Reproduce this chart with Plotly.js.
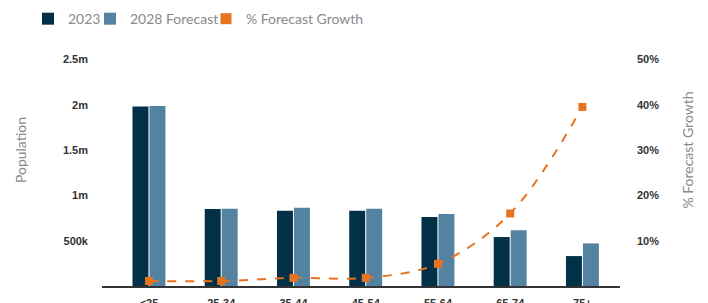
<!DOCTYPE html>
<html>
<head>
<meta charset="utf-8">
<script src="https://cdn.plot.ly/plotly-3.0.1.min.js"></script>
<style>html,body{margin:0;padding:0;background:#fff;}#chart{width:708px;height:303px;}</style>
</head>
<body>
<div id="chart"></div>
<script>
const categories = ['<25', '25-34', '35-44', '45-54', '55-64', '65-74', '75+'];
const pop2023 = [1980000, 850000, 830000, 830000, 760000, 540000, 330000];
const pop2028 = [1985000, 852000, 862000, 852000, 795000, 615000, 470000];
const growthPct = [1.1, 1.1, 1.8, 1.8, 4.9, 16.0, 39.5];
const leftTickVals = [500000, 1000000, 1500000, 2000000, 2500000];
const leftTickText = ['500k', '1m', '1.5m', '2m', '2.5m'];
const rightTickVals = [10, 20, 30, 40, 50];
const rightTickText = ['10%', '20%', '30%', '40%', '50%'];

const navy = '#023047';
const steel = '#5483a1';
const orange = '#e8731f';

const traces = [
  {type: 'bar', name: '2023', x: categories, y: pop2023, marker: {color: navy}, hoverinfo: 'x+y', legend: 'legend4'},
  {type: 'bar', name: '2028 Forecast', x: categories, y: pop2028, marker: {color: steel}, hoverinfo: 'x+y', legend: 'legend2'},
  {type: 'scatter', mode: 'lines+markers', name: '% Forecast Growth', x: categories, y: growthPct, yaxis: 'y2',
   line: {color: orange, width: 2, dash: 'dash', shape: 'spline', smoothing: 1.0},
   marker: {color: orange, symbol: 'square', size: 8}, showlegend: false, legend: 'legend3'},
  {type: 'scatter', mode: 'markers', name: '% Forecast Growth', x: [null], y: [null], yaxis: 'y2',
   marker: {color: orange, symbol: 'square', size: 11}, showlegend: true, legend: 'legend3'}
];

const tickFont = {family: 'Liberation Sans, Arial, sans-serif', size: 11, color: '#333', weight: 'bold'};
const titleFont = {family: 'Lato, sans-serif', size: 14, color: '#8a8a8a'};

function legendAt(px) {
  return {orientation: 'h', xref: 'container', yref: 'container', x: px / 708, xanchor: 'left', y: 0.937, yanchor: 'middle',
          font: {family: 'Lato, sans-serif', size: 14, color: '#8a8a8a'},
          bgcolor: 'rgba(0,0,0,0)', itemwidth: 30};
}

const layout = {
  width: 708, height: 303,
  margin: {l: 102, r: 88, t: 14, b: 17, autoexpand: false},
  paper_bgcolor: '#fff', plot_bgcolor: '#fff',
  barmode: 'group', bargap: 0.53, bargroupgap: 0.06,
  showlegend: true,
  legend4: legendAt(28),
  legend2: legendAt(90),
  legend3: legendAt(206),
  xaxis: {type: 'category', range: [-0.65, 6.52], showline: true, linecolor: '#333', linewidth: 2,
          showgrid: false, zeroline: false, ticks: '', tickfont: tickFont, ticklabelstandoff: 6, automargin: false, fixedrange: true},
  yaxis: {range: [0, 3000000], tickvals: leftTickVals, ticktext: leftTickText, showgrid: false, zeroline: false,
          showline: false, ticks: '', tickfont: tickFont, ticklabelstandoff: 13, automargin: false,
          title: {text: 'Population', font: titleFont, standoff: 33}},
  yaxis2: {range: [0, 60], overlaying: 'y', side: 'right', tickvals: rightTickVals, ticktext: rightTickText,
           showgrid: false, zeroline: false, showline: false, ticks: '', tickfont: tickFont, ticklabelstandoff: 16,
           automargin: false, title: {text: '% Forecast Growth', font: titleFont, standoff: 24}}
};

Plotly.newPlot('chart', traces, layout, {displayModeBar: false, staticPlot: true});
</script>
</body>
</html>
